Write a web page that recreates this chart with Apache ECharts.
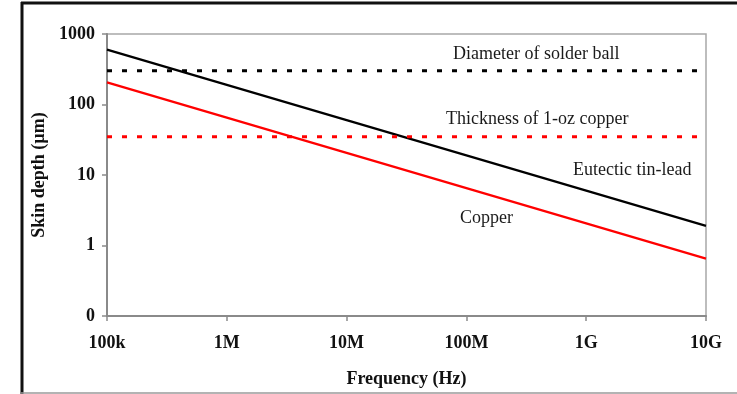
<!DOCTYPE html>
<html>
<head>
<meta charset="utf-8">
<script src="https://cdn.jsdelivr.net/npm/echarts@6/dist/echarts.min.js"></script>
<style>
  html, body { margin: 0; padding: 0; background: #fff; }
  #chart { width: 737px; height: 394px; }
</style>
</head>
<body>
<div id="chart"></div>
<script>
// Frequency points (Hz), one per decade
const frequencies = [1e5, 1e6, 1e7, 1e8, 1e9, 1e10];
// Skin depth in micrometres
const tinLeadDepth = [600, 190, 60, 19, 6.0, 1.9];
const copperDepth = [206, 65.2, 20.6, 6.52, 2.06, 0.652];
// Reference thicknesses (µm)
const solderBallDiameter = 300;
const oneOzCopperThickness = 35;
// Tick label text
const xTickLabels = { 1e5: '100k', 1e6: '1M', 1e7: '10M', 1e8: '100M', 1e9: '1G', 1e10: '10G' };
const yTickLabels = { 0.1: '0', 1: '1', 10: '10', 100: '100', 1000: '1000' };

const serif = '"Liberation Serif", "Times New Roman", serif';
const zip = (xs, ys) => xs.map((x, i) => [x, ys[i]]);
const flat = v => [[frequencies[0], v], [frequencies[frequencies.length - 1], v]];
const labelFor = (map, v) => {
  const key = Object.keys(map).find(k => Math.abs(Math.log10(+k) - Math.log10(v)) < 1e-6);
  return key !== undefined ? map[key] : '';
};

const chart = echarts.init(document.getElementById('chart'), null, { renderer: 'canvas' });
chart.setOption({
  animation: false,
  backgroundColor: '#ffffff',
  grid: {
    left: 107, right: 31, top: 34, bottom: 78,
    show: true, borderColor: '#a8a8a8', borderWidth: 1.5
  },
  xAxis: {
    type: 'log', logBase: 10, min: 1e5, max: 1e10,
    name: 'Frequency (Hz)', nameLocation: 'middle', nameGap: 54,
    nameTextStyle: { fontFamily: serif, fontWeight: 'bold', fontSize: 18, color: '#111' },
    axisLine: { lineStyle: { color: '#8a8a8a', width: 2 } },
    axisTick: { show: true, length: 5, lineStyle: { color: '#8a8a8a', width: 1.5 } },
    axisLabel: {
      margin: 18, fontFamily: serif, fontWeight: 'bold', fontSize: 18, color: '#111',
      formatter: v => labelFor(xTickLabels, v)
    },
    splitLine: { show: false },
    minorTick: { show: false }
  },
  yAxis: {
    type: 'log', logBase: 10, min: 0.1, max: 1000,
    name: 'Skin depth (µm)', nameLocation: 'middle', nameGap: 55, nameRotate: 90,
    nameTextStyle: { fontFamily: serif, fontWeight: 'bold', fontSize: 18, color: '#111' },
    axisLine: { show: true, lineStyle: { color: '#8a8a8a', width: 2 } },
    axisTick: { show: true, length: 5, lineStyle: { color: '#8a8a8a', width: 1.5 } },
    axisLabel: {
      margin: 12, fontFamily: serif, fontWeight: 'bold', fontSize: 18, color: '#111',
      formatter: v => labelFor(yTickLabels, v)
    },
    splitLine: { show: false },
    minorTick: { show: false }
  },
  series: [
    {
      name: 'Eutectic tin-lead', type: 'line', data: zip(frequencies, tinLeadDepth),
      showSymbol: false, lineStyle: { color: '#000', width: 2.2 }
    },
    {
      name: 'Copper', type: 'line', data: zip(frequencies, copperDepth),
      showSymbol: false, lineStyle: { color: '#ff0000', width: 2.2 }
    },
    {
      name: 'Diameter of solder ball', type: 'line', data: flat(solderBallDiameter),
      showSymbol: false, lineStyle: { color: '#000', width: 3, type: [5, 10] }
    },
    {
      name: 'Thickness of 1-oz copper', type: 'line', data: flat(oneOzCopperThickness),
      showSymbol: false, lineStyle: { color: '#ff0000', width: 3, type: [5, 10] }
    }
  ],
  graphic: [
    // page frame
    { type: 'line', shape: { x1: 22, y1: 2, x2: 22, y2: 394 }, style: { stroke: '#111', lineWidth: 3 } },
    { type: 'line', shape: { x1: 21, y1: 3, x2: 737, y2: 3 }, style: { stroke: '#111', lineWidth: 3 } },
    { type: 'line', shape: { x1: 21, y1: 393, x2: 737, y2: 393 }, style: { stroke: '#9a9a9a', lineWidth: 1.5 } },
    // annotations
    { type: 'text', left: 453, top: 45, style: { text: 'Diameter of solder ball', font: '18px ' + serif, fill: '#1a1a1a' } },
    { type: 'text', left: 446, top: 110, style: { text: 'Thickness of 1-oz copper', font: '18px ' + serif, fill: '#1a1a1a' } },
    { type: 'text', left: 573, top: 161, style: { text: 'Eutectic tin-lead', font: '18px ' + serif, fill: '#1a1a1a' } },
    { type: 'text', left: 460, top: 209, style: { text: 'Copper', font: '18px ' + serif, fill: '#1a1a1a' } }
  ]
});
</script>
</body>
</html>
